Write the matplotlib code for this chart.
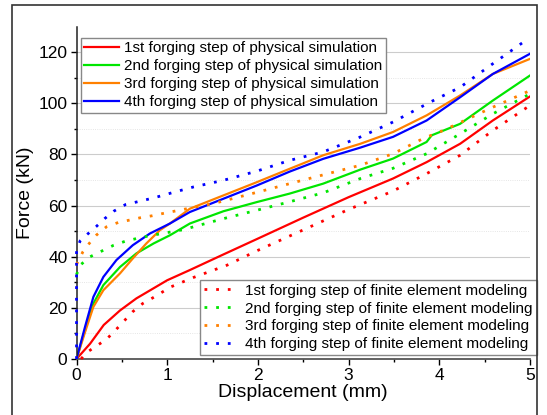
import numpy as np
import matplotlib.pyplot as plt

plt.rcParams['font.family'] = ['Liberation Sans', 'DejaVu Sans']

# physical simulation (solid)
x_r = [0, 0.15, 0.3, 0.48, 0.66, 1.0, 1.25, 1.62, 2.0, 2.5, 3.0, 3.49, 3.86, 4.23, 4.59, 5.0]
y_r = [0, 6, 13.3, 19, 23.7, 30.8, 34.8, 40.9, 47.1, 55.3, 63.3, 70.6, 77, 84.2, 93.3, 102.7]

x_g = [0, 0.094, 0.186, 0.296, 0.48, 0.66, 0.85, 1.03, 1.25, 1.62, 1.99, 2.35, 2.72,
       3.13, 3.49, 3.86, 3.916, 4.23, 4.59, 5.0]
y_g = [0, 11.5, 21.7, 28.9, 36, 41.3, 45.2, 48.4, 53, 57.8, 61.4, 64.7, 68.6,
       74.1, 78.4, 84.9, 87.5, 92, 101.1, 110.9]

x_o = [0, 0.094, 0.186, 0.296, 0.48, 0.62, 0.77, 0.92, 1.03, 1.25, 1.62, 1.99, 2.35, 2.72,
       3.13, 3.49, 3.86, 4.23, 4.59, 5.0]
y_o = [0, 10.5, 20.4, 26.9, 33.5, 39.3, 45.2, 50.4, 53, 58.8, 64, 69.2, 74.4, 79.7,
       84.2, 88.8, 95.3, 103.1, 111.5, 117.4]

x_b = [0, 0.094, 0.186, 0.296, 0.44, 0.62, 0.81, 1.03, 1.25, 1.62, 1.99, 2.35, 2.72,
       3.13, 3.49, 3.86, 4.23, 4.59, 5.0]
y_b = [0, 12.6, 24.3, 32.1, 38.7, 44.5, 49.1, 53, 57.5, 62.7, 67.9, 73.3, 78.3,
       82.7, 86.9, 93.3, 102.4, 111.5, 119.4]

# finite element modeling (dotted)
xf_r = [0.05, 0.11, 0.22, 0.33, 0.42, 0.62, 0.73, 0.84, 1.04, 1.29, 1.66, 2.0, 2.5,
        3.0, 3.49, 3.86, 4.23, 4.59, 5.0]
yf_r = [0, 2.5, 5.1, 7.7, 10.9, 18.5, 21.7, 23.9, 28.2, 31.9, 36.7, 42.5, 50.5,
        58.5, 65.7, 72.5, 79.7, 89.4, 99.2]

xf_g = [0.0, 0.04, 0.15, 0.3, 0.41, 0.54, 0.66, 0.79, 1.18, 1.31, 1.62, 1.99, 2.35, 2.72,
        3.13, 3.49, 3.86, 4.23, 4.59, 5.0]
yf_g = [33, 36.7, 40, 42.6, 44.5, 46.1, 47.1, 48.1, 50.6, 51.9, 54.9, 58.2, 61.5, 65,
        70.6, 74.6, 80.3, 88.1, 95.9, 103.7]

xf_o = [0.0, 0.07, 0.14, 0.22, 0.33, 0.46, 0.58, 0.71, 0.83, 0.95, 1.53, 2.0, 2.5,
        3.13, 3.49, 3.82, 4.05, 4.59, 5.0]
yf_o = [37, 41.9, 45.2, 48.5, 51.7, 53.4, 54.3, 55.3, 56, 56.9, 61, 65.3, 70,
        75.8, 80.3, 86.2, 89.5, 98.5, 105]

xf_b = [0.0, 0.0, 0.04, 0.12, 0.22, 0.31, 0.41, 0.54, 0.66, 0.79, 0.91, 1.04, 1.29, 1.62,
        1.99, 2.35, 2.72, 3.12, 3.49, 3.9, 4.23, 4.59, 4.96]
yf_b = [0, 42.6, 46.2, 48.8, 51.9, 54.9, 57.8, 60.4, 61.4, 62.5, 63.6, 64.9, 67.3, 69.9,
        73.5, 77.7, 81, 86.7, 92.7, 100.5, 106.3, 115.5, 124.8]

steps = ['1st', '2nd', '3rd', '4th']
colors = ['#ff0000', '#00e600', '#ff8000', '#0000ff']

fig = plt.figure(figsize=(5.47, 4.15), dpi=100)
ax = fig.add_axes([0.1399, 0.135, 0.829, 0.8007])

# frame around the whole picture
fig.add_artist(plt.Rectangle((0.0214, -0.02), 0.960, 1.009, transform=fig.transFigure,
                             fill=False, edgecolor='#333333', lw=1.2))

solid = [(x_r, y_r), (x_g, y_g), (x_o, y_o), (x_b, y_b)]
dotted = [(xf_r, yf_r), (xf_g, yf_g), (xf_o, yf_o), (xf_b, yf_b)]

h1 = []
for (x, y), c, s in zip(solid, colors, steps):
    ln, = ax.plot(x, y, color=c, lw=1.6, label=f'{s} forging step of physical simulation')
    h1.append(ln)
h2 = []
for (x, y), c, s in zip(dotted, colors, steps):
    ln, = ax.plot(x, y, color=c, lw=2.0, linestyle=(0, (1, 3.2)), clip_on=False, zorder=3,
                  label=f'{s} forging step of finite element modeling')
    h2.append(ln)

ax.set_xlim(0, 5)
ax.set_ylim(0, 130)
ax.set_xticks(range(6))
ax.set_xticks(np.arange(0.5, 5, 1), minor=True)
ax.set_yticks(range(0, 121, 20))
ax.set_yticks(range(10, 130, 20), minor=True)
ax.grid(axis='y', which='major', color='#cccccc', lw=0.8)
ax.grid(axis='y', which='minor', color='#dddddd', lw=0.6, linestyle=':')
ax.set_axisbelow(True)
for sp in ['top', 'right']:
    ax.spines[sp].set_visible(False)
ax.spines['left'].set_color('#222222')
ax.spines['bottom'].set_color('#555555')
ax.spines['left'].set_linewidth(1.1)
ax.spines['bottom'].set_linewidth(1.3)
ax.tick_params(which='major', direction='out', length=4.5, width=1, labelsize=12.5, pad=2)
ax.tick_params(which='minor', direction='out', length=2.5, width=1)
ax.set_xlabel('Displacement (mm)', fontsize=14, labelpad=1)
ax.set_ylabel('Force (kN)', fontsize=14, labelpad=3)

leg1 = ax.legend(handles=h1, loc='upper left', bbox_to_anchor=(0.0088, 0.967),
                 fontsize=11, frameon=True, fancybox=False, edgecolor='#888888',
                 borderaxespad=0, handlelength=2.25, handletextpad=0.35,
                 labelspacing=0.25, borderpad=0.25, framealpha=1)
leg1.get_frame().set_linewidth(1.0)
leg1.set_zorder(5)
ax.add_artist(leg1)
leg2 = ax.legend(handles=h2, loc='lower right', bbox_to_anchor=(1.015, 0.012),
                 fontsize=11, frameon=True, fancybox=False, edgecolor='#888888',
                 borderaxespad=0, handlelength=1.8, handletextpad=0.9,
                 labelspacing=0.25, borderpad=0.25, framealpha=1)
leg2.get_frame().set_linewidth(1.0)
leg2.set_zorder(5)

fig.savefig('out.png', dpi=100)
